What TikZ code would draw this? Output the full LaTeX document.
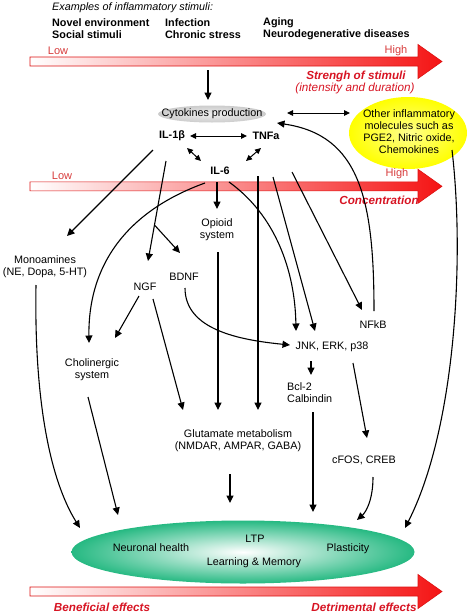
\documentclass[tikz,border=0pt]{standalone}
\usepackage{fontspec}
\setmainfont{Liberation Sans}
\usetikzlibrary{arrows.meta,shapes.geometric}

\definecolor{barred}{RGB}{245,20,20}
\definecolor{txtred}{RGB}{215,20,35}
\definecolor{lowred}{RGB}{215,60,60}
\definecolor{mint}{RGB}{38,185,130}

\begin{document}
\begin{tikzpicture}
[x=1pt,y=-1pt,every node/.style={inner sep=0pt,font=\fontsize{10.8}{12}\selectfont},
bld/.style={font=\fontsize{10.8}{11.5}\selectfont\bfseries},
redlbl/.style={text=txtred,font=\fontsize{11.7}{13}\selectfont\bfseries\itshape},
lowhigh/.style={text=lowred,font=\fontsize{11}{13}\selectfont},
arr/.style={line width=1.1pt,-{Triangle[length=7.5pt,width=7pt]}},
dbl/.style={line width=1pt,{Triangle[length=6pt,width=5.5pt]}-{Triangle[length=6pt,width=5.5pt]}}]
\useasboundingbox (0,0) rectangle (474,616);
% the three shaded bars
\foreach \yc in {61.5,186.3,591.5}
\path[draw=barred!90!black,line width=.6pt,left color=white,right color=barred]
(30,\yc-4.5) -- (418,\yc-4.5) -- (418,\yc-17) -- (442,\yc) -- (418,\yc+17) -- (418,\yc+4.5) -- (30,\yc+4.5) -- cycle;
% header
\node[font=\fontsize{10.8}{12}\selectfont\itshape,anchor=west] (title) at (52,8) {Examples of inflammatory stimuli:};
\node[bld,align=left,anchor=west] (col1) at (52,28.5) {Novel environment\\Social stimuli};
\node[bld,align=left,anchor=west] (col2) at (165,28.5) {Infection\\Chronic stress};
\node[bld,align=left,anchor=west] (col3) at (263,28.5) {Aging\\Neurodegenerative diseases};
\node[lowhigh] (low1) at (58,51) {Low};
\node[lowhigh] (high1) at (396,51) {High};
\node[redlbl] (strength) at (356,76) {Strengh of stimuli};
\node[redlbl,font=\fontsize{11.7}{13}\selectfont\itshape] (intens) at (355,88) {(intensity and duration)};
\coordinate (stim) at (208,70);
% cytokines
\node[ellipse,minimum width=108,minimum height=17,inner color=gray!12,outer color=gray!40] (cytobg) at (212,114) {};
\node (cyto) at (212,114) {Cytokines production};
\node[ellipse,minimum width=118,minimum height=72,inner color=yellow!45,outer color=yellow] (otherbg) at (408,133) {};
\node[align=center] (other) at (409,132) {Other inflammatory\\molecules such as\\PGE2, Nitric oxide,\\Chemokines};
\node[bld] (il1b) at (172,136) {IL-1β};
\node[bld] (tnfa) at (266,136) {TNFa};
\node[bld] (il6) at (220,171) {IL-6};
\node[lowhigh] (low2) at (62,176) {Low};
\node[lowhigh] (high2) at (397,174) {High};
\node[redlbl] (conc) at (379,200) {Concentration};
% pathways
\node[align=center] (mono) at (45,267) {Monoamines\\(NE, Dopa, 5-HT)};
\node[align=center] (opioid) at (217,230) {Opioid\\system};
\node (ngf) at (145,287) {NGF};
\node (bdnf) at (184,277) {BDNF};
\node (nfkb) at (373,325) {NFkB};
\node[align=center] (chol) at (92,370) {Cholinergic\\system};
\node (jnk) at (332,347) {JNK, ERK, p38};
\node[align=left,anchor=west] (bcl) at (287,393) {Bcl-2\\Calbindin};
\node[align=center] (glut) at (238,441) {Glutamate metabolism\\(NMDAR, AMPAR, GABA)};
\node (cfos) at (364,460) {cFOS, CREB};
% effects
\node[ellipse,minimum width=343,minimum height=63,inner color=white,outer color=mint] (effect) at (243,552) {};
\node (neuro) at (151,548) {Neuronal health};
\node (ltp) at (255,539) {LTP};
\node (learn) at (254,563) {Learning \& Memory};
\node (plast) at (348,549) {Plasticity};
\node[redlbl] (benef) at (102,607) {Beneficial effects};
\node[redlbl] (detr) at (364,607) {Detrimental effects};
% connectors
\draw[arr] (stim) -- ([shift={(-4,-14)}]cytobg.center);
\draw[dbl] ([shift={(75,-1)}]cyto.center) -- ([shift={(-59,-19)}]other.center);
\draw[dbl] ([shift={(18,0)}]il1b.center) -- ([shift={(-19,0)}]tnfa.center);
\draw[dbl] ([shift={(15,12)}]il1b.center) -- ([shift={(-19,-10)}]il6.center);
\draw[dbl] ([shift={(-5,12)}]tnfa.center) -- ([shift={(26,-10)}]il6.center);
\draw[arr] ([shift={(-19,14)}]il1b.center) -- ([shift={(22,-31)}]mono.center);
\draw[arr] ([shift={(-6,25)}]il1b.center) -- coordinate[pos=.64] (brch) ([shift={(3,-26)}]ngf.center);
\draw[arr] (brch) -- ([shift={(-4,-24)}]bdnf.center);
\draw[arr] ([shift={(-3,11)}]il6.center) -- ([shift={(0,-21)}]opioid.center);
\draw[arr] ([shift={(-15,12)}]il6.center) .. controls (130,210) and (88,262) .. ([shift={(-3,-27)}]chol.center);
\draw[arr] ([shift={(-6,9)}]ngf.center) -- ([shift={(23,-32)}]chol.center);
\draw[arr] ([shift={(8,12)}]ngf.center) -- ([shift={(-55,-31)}]glut.center);
\draw[arr] ([shift={(1,22)}]opioid.center) -- ([shift={(-20,-31)}]glut.center);
\draw[arr] ([shift={(-8,40)}]tnfa.center) -- ([shift={(20,-31)}]glut.center);
\draw[arr] ([shift={(9,11)}]il6.center) .. controls (275,215) and (295,270) .. ([shift={(-36,-16)}]jnk.center);
\draw[arr] ([shift={(7,41)}]tnfa.center) -- ([shift={(-17,-16)}]jnk.center);
\draw[arr] ([shift={(26,36)}]tnfa.center) -- ([shift={(-11,-15)}]nfkb.center);
\draw[arr] ([shift={(1,-14)}]nfkb.center) .. controls (374,200) and (360,135) .. ([shift={(11,-13)}]tnfa.center);
\draw[arr] ([shift={(43,18)}]other.center) .. controls (465,260) and (455,430) .. ([shift={(162,-24)}]effect.center);
\draw[arr] ([shift={(1,11)}]bdnf.center) .. controls (185,330) and (240,340) .. ([shift={(-42,-2)}]jnk.center);
\draw[arr] ([shift={(-21,14)}]jnk.center) -- ([shift={(24,-18)}]bcl.west);
\draw[arr] ([shift={(21,16)}]jnk.center) -- ([shift={(3,-22)}]cfos.center);
\draw[arr] ([shift={(-8,33)}]glut.center) -- ([shift={(-13,-49)}]effect.center);
\draw[arr] ([shift={(26,19)}]bcl.west) -- ([shift={(70,-40)}]effect.center);
\draw[arr] ([shift={(9,17)}]cfos.center) .. controls (373,500) and (366,512) .. ([shift={(114,-32)}]effect.center);
\draw[arr] ([shift={(-4,27)}]chol.center) -- ([shift={(-125,-37)}]effect.center);
\draw[arr] ([shift={(-9,18)}]mono.center) .. controls (34,400) and (50,480) .. ([shift={(-163,-24)}]effect.center);
\end{tikzpicture}
\end{document}
